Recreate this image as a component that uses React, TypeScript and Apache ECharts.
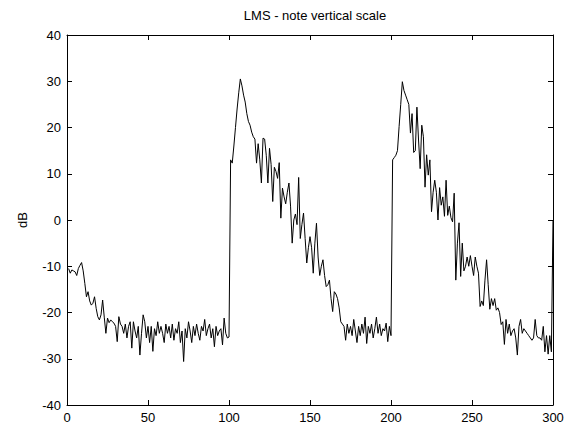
import React, { useEffect, useRef } from "react";
import * as echarts from "echarts";

const titleText = "LMS - note vertical scale";
const yAxisName = "dB";

// samples 1..100
const segmentA = [
  -10.5, -11.5, -10.8, -11, -11.2, -12, -10.5, -9.8, -9.2, -11,
  -13.7, -16.6, -15.5, -17.5, -18.4, -18, -16.6, -19.1, -20.9, -21.6,
  -20.5, -17.3, -21, -24.5, -21.2, -22.2, -21.6, -22, -22.3, -23,
  -26.3, -20.9, -22.5, -23, -24.5, -22.5, -25.5, -23, -22, -27.7,
  -22, -24, -25.5, -23, -29.2, -24.5, -20.5, -22, -25.5, -23,
  -26.5, -23, -28.4, -23.5, -25, -22, -24.5, -23, -24.5, -26.5,
  -22.5, -24.5, -23, -25.5, -22.5, -26, -23.5, -24.5, -22, -26.5,
  -24, -30.6, -23.5, -25.5, -22, -24, -26.5, -23, -25, -22.5,
  -24.5, -26, -23, -24, -21.5, -25, -23.5, -22.5, -25.5, -23.5,
  -27.4, -23, -25, -24, -23.5, -27, -21.2, -24.5, -25.5, -25.3,
];

// samples 101..200
const segmentB = [
  13, 12.3, 16, 20, 24, 27.5, 30.5, 29, 27, 25.5,
  23, 21.3, 20.5, 19, 18, 17.5, 12.3, 16.5, 13, 8,
  17.7, 17.5, 14, 8, 15.5, 12, 4, 11.4, 10.5, 9,
  12.4, 0.4, 6.9, 5, 3.5, 6, 8, 3, -5, 0,
  1.3, -1, 9.2, -4, -1, 1.5, -4, -9.3, -6, -3.6,
  -6, -11.5, -5, -0.7, -8, -12, -10, -8.6, -12, -14.4,
  -14, -13, -17, -19.8, -15.5, -16, -17, -19, -22, -22.5,
  -23, -26, -22.5, -24.5, -23, -25, -21.5, -24, -26.5, -23,
  -25, -22.5, -24.5, -21, -26.7, -23, -24.5, -22.5, -25.5, -23.5,
  -21, -24.5, -22.5, -25, -23.5, -24, -22.3, -26.3, -23, -25,
];

// samples 201..300
const segmentC = [
  13, 13.5, 14, 15, 20.2, 25, 29.9, 28, 27, 26,
  25, 18.8, 23, 14.6, 15, 24.4, 17.3, 11.1, 20.5, 18,
  7.1, 14.1, 9.7, 13, 1.8, 6, 8.6, 6, 0, 7,
  3.2, 5, 0.8, 8.6, 1, 3, 0.5, -0.4, 5.8, -13,
  -5, -0.6, -12.2, -5, -11, -10, -8, -10, -7.7, -10,
  -12, -8, -10, -11.5, -18.7, -17.5, -18.5, -13, -8.6, -14,
  -19.3, -17, -18.5, -17, -19.5, -19, -20, -22.6, -22, -26.9,
  -21.5, -24.5, -22.5, -25, -24, -23.5, -25.5, -29.2, -23, -21.5,
  -24.5, -23.5, -24, -24.5, -25, -25.5, -26, -25.5, -21.5, -25,
  -25.5, -25.5, -26, -23, -28.5, -25, -29, -25, -28.5, 0,
];

const xTicks = [0, 50, 100, 150, 200, 250, 300];
const yTicks = [-40, -30, -20, -10, 0, 10, 20, 30, 40];

export default function App() {
  const ref = useRef<HTMLDivElement>(null);
  useEffect(() => {
    if (!ref.current) return;
    const chart = echarts.init(ref.current, null, { renderer: "svg" });
    const values = [...segmentA, ...segmentB, ...segmentC];
    const data = values.map((v, i) => [i + 1, v]);
    const font = "Liberation Sans, Arial, sans-serif";
    const xMin = xTicks[0];
    const xMax = xTicks[xTicks.length - 1];
    const yMin = yTicks[0];
    const yMax = yTicks[yTicks.length - 1];
    const axisCommon = {
      axisLine: { show: true, onZero: false, lineStyle: { color: "#000", width: 1 } },
      axisTick: { show: true, inside: true, length: 5, lineStyle: { color: "#000", width: 1 } },
      splitLine: { show: false },
    };
    chart.setOption({
      animation: false,
      backgroundColor: "#fff",
      title: {
        text: titleText,
        left: 310,
        textAlign: "center",
        top: 4,
        textStyle: { fontFamily: font, fontSize: 13, fontWeight: "normal", color: "#000" },
      },
      grid: { left: 67, top: 35, width: 486, height: 370, containLabel: false },
      xAxis: [
        {
          type: "value",
          min: xMin,
          max: xMax,
          interval: 50,
          position: "bottom",
          ...axisCommon,
          axisLabel: { fontFamily: font, fontSize: 13, color: "#000", margin: 6 },
        },
        {
          type: "value",
          min: xMin,
          max: xMax,
          interval: 50,
          position: "top",
          ...axisCommon,
          axisLabel: { show: false },
        },
      ],
      yAxis: [
        {
          type: "value",
          min: yMin,
          max: yMax,
          interval: 10,
          position: "left",
          name: yAxisName,
          nameLocation: "middle",
          nameGap: 38,
          nameTextStyle: { fontFamily: font, fontSize: 13, color: "#000" },
          ...axisCommon,
          axisLabel: { fontFamily: font, fontSize: 13, color: "#000", margin: 6 },
        },
        {
          type: "value",
          min: yMin,
          max: yMax,
          interval: 10,
          position: "right",
          ...axisCommon,
          axisLabel: { show: false },
        },
      ],
      series: [
        {
          type: "line",
          data,
          xAxisIndex: 0,
          yAxisIndex: 0,
          showSymbol: false,
          symbol: "none",
          lineStyle: { color: "#000", width: 1 },
        },
      ],
    });
    return () => chart.dispose();
  }, []);
  return (
    <div
      ref={ref}
      style={{ position: "fixed", left: 0, top: 0, width: 581, height: 432, background: "#fff" }}
    />
  );
}
